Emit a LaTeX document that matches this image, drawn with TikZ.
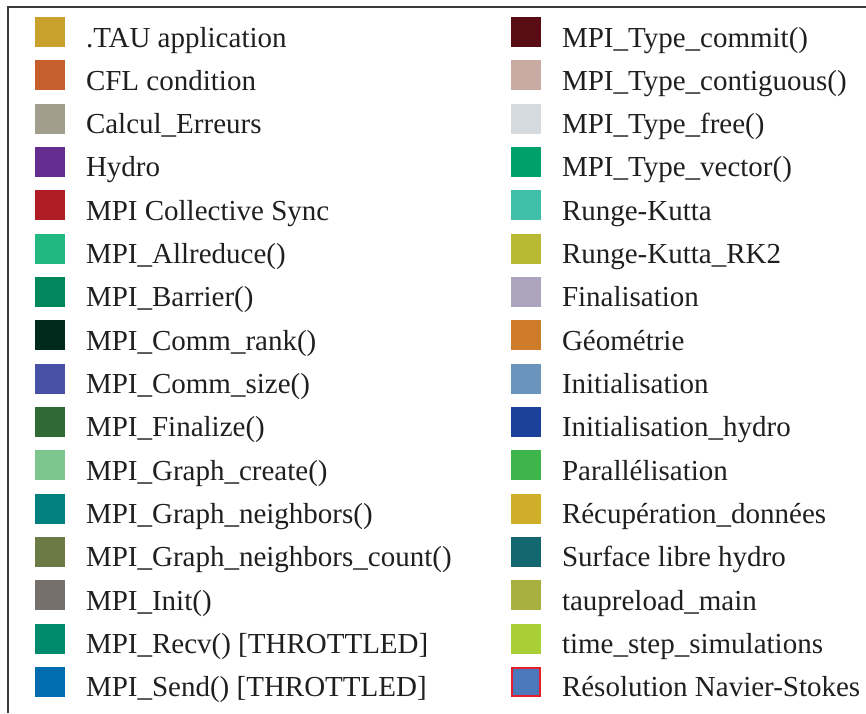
\documentclass[tikz,border=0pt]{standalone}
\usepackage{fontspec}
\setmainfont{Liberation Serif}
\definecolor{cA1}{HTML}{C8A02C}
\definecolor{cA2}{HTML}{C65F2C}
\definecolor{cA3}{HTML}{A19E8E}
\definecolor{cA4}{HTML}{652D90}
\definecolor{cA5}{HTML}{B11D24}
\definecolor{cA6}{HTML}{22B882}
\definecolor{cA7}{HTML}{00885C}
\definecolor{cA8}{HTML}{002A1C}
\definecolor{cA9}{HTML}{4651A5}
\definecolor{cA10}{HTML}{2F6A35}
\definecolor{cA11}{HTML}{7DC78F}
\definecolor{cA12}{HTML}{00807F}
\definecolor{cA13}{HTML}{6B7B45}
\definecolor{cA14}{HTML}{75706B}
\definecolor{cA15}{HTML}{008C6C}
\definecolor{cA16}{HTML}{006DB0}
\definecolor{cB1}{HTML}{5A0C14}
\definecolor{cB2}{HTML}{C9ABA3}
\definecolor{cB3}{HTML}{D6DBDF}
\definecolor{cB4}{HTML}{00A06A}
\definecolor{cB5}{HTML}{40BFA8}
\definecolor{cB6}{HTML}{B9BA33}
\definecolor{cB7}{HTML}{ACA5BD}
\definecolor{cB8}{HTML}{CE7C2A}
\definecolor{cB9}{HTML}{6A94BC}
\definecolor{cB10}{HTML}{1C419A}
\definecolor{cB11}{HTML}{3DB54A}
\definecolor{cB12}{HTML}{CFAF2A}
\definecolor{cB13}{HTML}{136870}
\definecolor{cB14}{HTML}{A8B03F}
\definecolor{cB15}{HTML}{A8D036}
\definecolor{cB16}{HTML}{4A78BA}
\definecolor{nsborder}{HTML}{E51E2A}
\definecolor{frameline}{HTML}{3A3A3A}
\tikzset{
  swatch/.style={draw=none, minimum size=30pt, inner sep=0pt, outer sep=0pt},
  lbl/.style={anchor=base west, inner sep=0pt, outer sep=0pt, text=black!88,
              font=\fontsize{29}{34}\selectfont},
  frame/.style={draw=frameline, line width=1.3pt}
}
\begin{document}
\begin{tikzpicture}[x=1pt,y=1pt]
\useasboundingbox (0,0) rectangle (866,-713);
\draw[frame] (8,-713) -- (8,-7) -- (866,-7);
% left column
\foreach \i/\t in {1/.TAU application, 2/CFL condition, 3/Calcul\_Erreurs, 4/Hydro,
  5/MPI Collective Sync, 6/MPI\_Allreduce(), 7/MPI\_Barrier(), 8/MPI\_Comm\_rank(),
  9/MPI\_Comm\_size(), 10/MPI\_Finalize(), 11/MPI\_Graph\_create(),
  12/MPI\_Graph\_neighbors(), 13/MPI\_Graph\_neighbors\_count(), 14/MPI\_Init(),
  15/{MPI\_Recv() [THROTTLED]}, 16/{MPI\_Send() [THROTTLED]}}{
  \pgfmathsetmacro{\yc}{-(32+43.33*(\i-1))}
  \pgfmathsetmacro{\yb}{-(47+43.33*(\i-1))}
  \node[swatch, fill=cA\i] (sA\i) at (50,\yc) {};
  \node[lbl] (tA\i) at (86,\yb) {\t};
}
% right column
\foreach \i/\t in {1/MPI\_Type\_commit(), 2/MPI\_Type\_contiguous(), 3/MPI\_Type\_free(),
  4/MPI\_Type\_vector(), 5/Runge-Kutta, 6/Runge-Kutta\_RK2, 7/Finalisation,
  8/Géométrie, 9/Initialisation, 10/Initialisation\_hydro, 11/Parallélisation,
  12/Récupération\_données, 13/Surface libre hydro, 14/taupreload\_main,
  15/time\_step\_simulations}{
  \pgfmathsetmacro{\yc}{-(32+43.33*(\i-1))}
  \pgfmathsetmacro{\yb}{-(47+43.33*(\i-1))}
  \node[swatch, fill=cB\i] (sB\i) at (526,\yc) {};
  \node[lbl] (tB\i) at (562,\yb) {\t};
}
\node[swatch, fill=cB16, draw=nsborder, line width=2pt, minimum size=28pt] (sB16) at (526,{-(32+43.33*15)}) {};
\node[lbl] (tB16) at (562,{-(47+43.33*15)}) {Résolution Navier-Stokes};
\end{tikzpicture}
\end{document}
